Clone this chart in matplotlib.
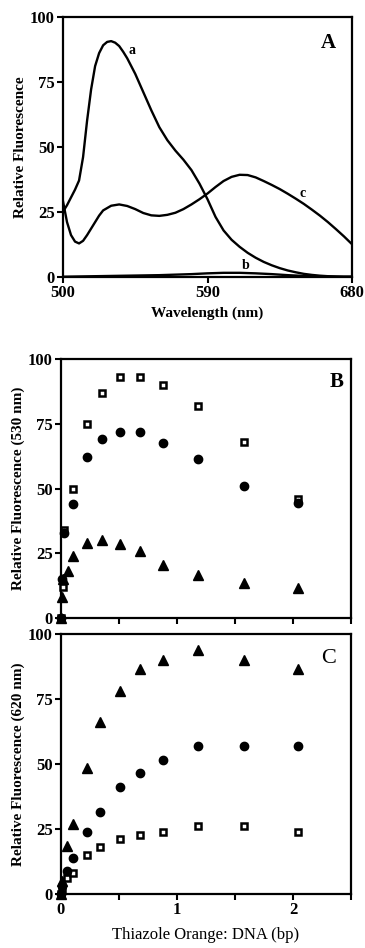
import numpy as np
import matplotlib
matplotlib.use("Agg")
import matplotlib.pyplot as plt

plt.rcParams['font.family'] = ['Liberation Serif', 'DejaVu Serif']

# ---- Panel A: emission spectra ----
wl_a = [500, 502.5, 505, 507.5, 510, 512.5, 515, 517.5, 520, 522.5, 525, 527.5,
        530, 532.5, 535, 537.5, 540, 545, 550, 555, 560, 565, 570, 575, 580,
        585, 590, 595, 600, 605, 610, 615, 620, 625, 630, 635, 640, 645, 650,
        655, 660, 665, 670, 675, 680]
spec_a = [25, 27.5, 30.5, 33.5, 37, 46, 60, 72, 81, 86, 89, 90.3,
          90.6, 90, 88.7, 86.5, 84, 78, 71, 64, 57.5, 52.5, 48.5, 45, 41,
          35.8, 29.8, 23, 17.8, 14.2, 11.5, 9.2, 7.3, 5.7, 4.4, 3.3, 2.4, 1.7, 1.1,
          0.7, 0.4, 0.2, 0.1, 0, 0]
wl_c = [500, 502.5, 505, 507.5, 510, 512.5, 515, 517.5, 520, 522.5, 525, 530,
        535, 540, 545, 550, 555, 560, 565, 570, 575, 580, 585, 590, 595, 600,
        605, 610, 615, 620, 625, 630, 635, 640, 645, 650, 655, 660, 665, 670,
        675, 680]
spec_c = [29, 21, 16, 13.5, 12.8, 13.8, 16, 18.5, 21, 23.5, 25.5, 27.3,
          27.8, 27.2, 26, 24.5, 23.6, 23.4, 23.8, 24.6, 26, 27.8, 29.8, 32, 34.5, 36.8,
          38.4, 39.2, 39.1, 38.2, 36.8, 35.3, 33.7, 31.9, 30, 28, 25.8, 23.5, 21, 18.3,
          15.5, 12.5]
wl_b = [500, 520, 540, 560, 580, 590, 600, 610, 620, 630, 640, 650, 660, 670, 680]
spec_b = [0, 0.2, 0.4, 0.6, 1.0, 1.3, 1.5, 1.5, 1.3, 1.0, 0.6, 0.3, 0.1, 0, 0]

# ---- Panel B: fluorescence at 530 nm ----
b_sq_x = [0, 0.02, 0.03, 0.1, 0.22, 0.35, 0.51, 0.68, 0.88, 1.18, 1.58, 2.04]
b_sq_y = [0, 12, 34, 50, 75, 87, 93, 93, 90, 82, 68, 46]
b_ci_x = [0, 0.01, 0.03, 0.1, 0.22, 0.35, 0.51, 0.68, 0.88, 1.18, 1.58, 2.04]
b_ci_y = [0, 15, 33, 44, 62, 69, 72, 72, 67.5, 61.5, 51, 44.5]
b_tr_x = [0, 0.01, 0.02, 0.06, 0.1, 0.22, 0.35, 0.51, 0.68, 0.88, 1.18, 1.58, 2.04]
b_tr_y = [0, 8, 15, 18, 24, 29, 30, 28.5, 26, 20.5, 16.5, 13.5, 11.5]

# ---- Panel C: fluorescence at 620 nm ----
c_x = [0, 0.01, 0.05, 0.1, 0.22, 0.34, 0.51, 0.68, 0.88, 1.18, 1.58, 2.04]
c_tr_y = [0, 5, 18.5, 27, 48.5, 66, 78, 86.5, 90, 94, 90, 86.5]
c_ci_y = [0, 3, 9, 14, 24, 31.5, 41, 46.5, 51.5, 57, 57, 57]
c_sq_y = [0, 2, 6, 8, 15, 18, 21, 22.5, 24, 26, 26, 24]

yticks = [0, 25, 50, 75, 100]


def style_axes(ax):
    for s in ax.spines.values():
        s.set_linewidth(1.6)
    ax.tick_params(direction='out', length=4, width=1.5, labelsize=12, pad=2)
    for lab in ax.get_xticklabels() + ax.get_yticklabels():
        lab.set_fontweight('bold')
    ax.set_ylim(0, 100)
    ax.set_yticks(yticks)


def scatter_sets(ax, sq, ci, tr):
    # squares underneath, filled symbols on top
    ax.plot(*sq, 's', mfc='white', mec='black', mew=1.8, ms=5, clip_on=False, zorder=3)
    ax.plot(*ci, 'o', color='black', ms=6, clip_on=False, zorder=4)
    ax.plot(*tr, '^', color='black', ms=7, clip_on=False, zorder=5)


fig = plt.figure(figsize=(3.65, 9.48), dpi=100)

# Panel A
axA = fig.add_axes([0.1726, 0.7081, 0.7918, 0.2743])
axA.plot(wl_a, spec_a, color='black', lw=1.7)
axA.plot(wl_c, spec_c, color='black', lw=1.7)
axA.plot(wl_b, spec_b, color='black', lw=1.7)
axA.set_xlim(500, 680)
axA.set_xticks([500, 590, 680])
style_axes(axA)
axA.set_xlabel('Wavelength (nm)', fontsize=11, fontweight='bold', labelpad=4)
axA.set_ylabel('Relative Fluorescence', fontsize=11, fontweight='bold', labelpad=2)
axA.text(543, 87, 'a', fontsize=10, fontweight='bold', ha='center', va='center')
axA.text(614, 4.5, 'b', fontsize=10, fontweight='bold', ha='center', va='center')
axA.text(649, 32, 'c', fontsize=10, fontweight='bold', ha='center', va='center')
axA.text(665, 90, 'A', fontsize=15, fontweight='bold', ha='center', va='center')

# Panel B
axB = fig.add_axes([0.1671, 0.3481, 0.7945, 0.2732])
scatter_sets(axB, (b_sq_x, b_sq_y), (b_ci_x, b_ci_y), (b_tr_x, b_tr_y))
axB.set_xlim(0, 2.5)
axB.set_xticks([0, 0.5, 1, 1.5, 2, 2.5])
axB.set_xticklabels([])
style_axes(axB)
axB.set_ylabel('Relative Fluorescence (530 nm)', fontsize=11, fontweight='bold', labelpad=2)
axB.text(2.38, 91, 'B', fontsize=15, fontweight='bold', ha='center', va='center')

# Panel C
axC = fig.add_axes([0.1671, 0.0570, 0.7945, 0.2743])
scatter_sets(axC, (c_x, c_sq_y), (c_x, c_ci_y), (c_x, c_tr_y))
axC.set_xlim(0, 2.5)
axC.set_xticks([0, 0.5, 1, 1.5, 2, 2.5])
axC.set_xticklabels(['0', '', '1', '', '2', ''])
style_axes(axC)
axC.set_xlabel('Thiazole Orange: DNA (bp)', fontsize=12, labelpad=6)
axC.set_ylabel('Relative Fluorescence (620 nm)', fontsize=11, fontweight='bold', labelpad=2)
axC.text(2.31, 90.5, 'C', fontsize=16, ha='center', va='center')

fig.savefig('out.png', dpi=100)
